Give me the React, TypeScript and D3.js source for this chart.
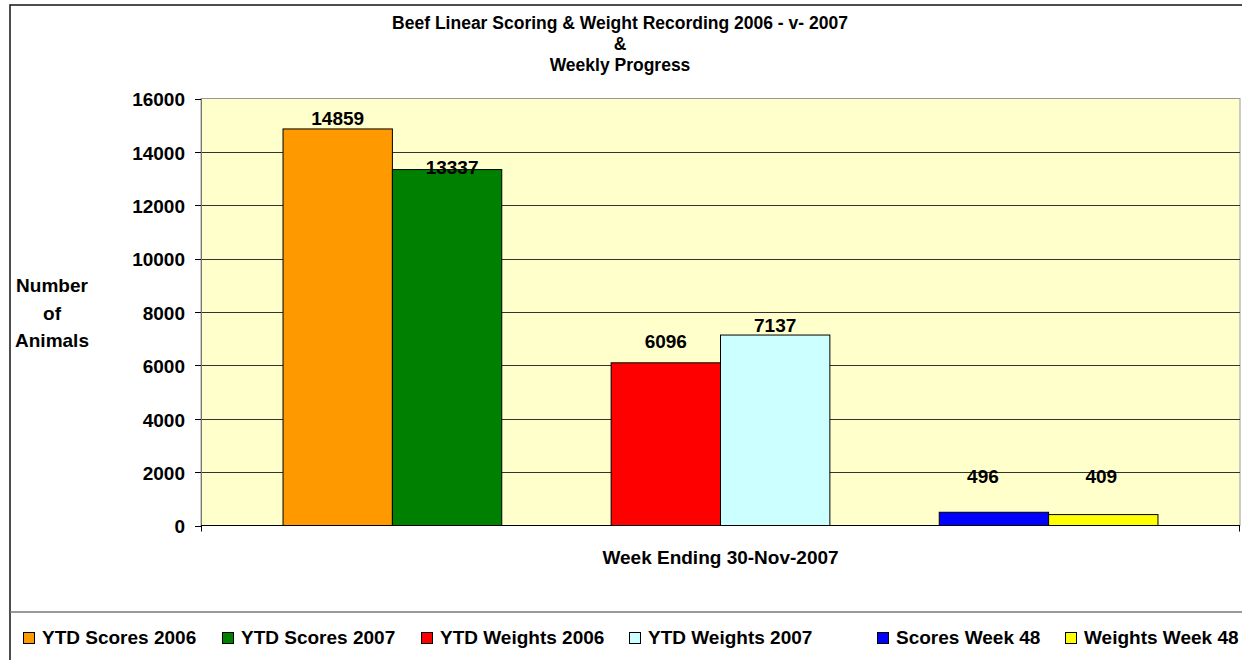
import React from "react";
import * as d3 from "d3";

// chart values
const titleLines = ["Beef Linear Scoring & Weight Recording 2006 - v- 2007", "&", "Weekly Progress"];
const yTitleLines = ["Number", "of", "Animals"];
const categoryLabel = "Week Ending 30-Nov-2007";
const slots = ["s06", "s07", "blank1", "w06", "w07", "blank2", "sw48", "ww48"];
const seriesNames = ["YTD Scores 2006", "YTD Scores 2007", "", "YTD Weights 2006", "YTD Weights 2007", "", "Scores Week 48", "Weights Week 48"];
const seriesValues = [14859, 13337, null, 6096, 7137, null, 496, 409];
const yTicks = [0, 2000, 4000, 6000, 8000, 10000, 12000, 14000, 16000];

// styles / layout
const colors = ["#FF9900", "#008000", null, "#FF0000", "#CCFFFF", null, "#0000FF", "#FFFF00"];
const labelNudge = [[0, -3.5], [5, 4], null, [0, -14.6], [0, -2.8], null, [-11, -29.3], [-2, -31.6]];
const legendX = [23, 222, 421, 629, 877, 1065];
const FONT = "'Liberation Sans', Arial, sans-serif";

const W = 1242, H = 660;
const plot = { left: 201, right: 1240, top: 98.5, bottom: 525.5 };

export default function App() {
  const x = d3.scaleBand().domain(slots).range([plot.left, plot.right]).paddingInner(0).paddingOuter(0.75);
  const y = d3.scaleLinear().domain([0, 16000]).range([plot.bottom, plot.top]);
  const cx = (plot.left + plot.right) / 2;

  const legendItems = seriesNames
    .map((name, i) => ({ name, color: colors[i] }))
    .filter(d => d.name !== "");

  return (
    <svg width={W} height={H} style={{ position: "absolute", left: 0, top: 0, background: "#fff" }}
      fontFamily={FONT} fontWeight="bold" fontSize={19}>
      {/* chart frame */}
      <rect x={10} y={5} width={W + 20} height={H + 20} fill="#fff" stroke="#222" strokeWidth={1.6} />

      {/* title */}
      <g textAnchor="middle" fontSize={17.5}>
        {titleLines.map((t, i) => (
          <text key={i} x={620} y={28.5 + i * 21}>{t}</text>
        ))}
      </g>

      {/* plot area */}
      <rect x={plot.left} y={plot.top} width={plot.right - plot.left} height={plot.bottom - plot.top}
        fill="#FFFFCC" stroke="#999" strokeWidth={1} />
      {yTicks.slice(1, -1).map(t => (
        <line key={t} x1={plot.left} x2={plot.right} y1={Math.round(y(t)) + 0.5} y2={Math.round(y(t)) + 0.5}
          stroke="#333" strokeWidth={1} />
      ))}

      {/* bars */}
      {slots.map((s, i) => {
        const v = seriesValues[i];
        if (v == null) return null;
        return (
          <rect key={s} x={x(s)} y={y(v)} width={x.bandwidth()} height={y(0) - y(v)}
            fill={colors[i] as string} stroke="#000" strokeWidth={1} />
        );
      })}

      {/* value labels */}
      <g textAnchor="middle">
        {slots.map((s, i) => {
          const v = seriesValues[i];
          const n = labelNudge[i];
          if (v == null || !n) return null;
          return (
            <text key={s} x={(x(s) as number) + x.bandwidth() / 2 + n[0]} y={y(v) + n[1]}>{v}</text>
          );
        })}
      </g>

      {/* y axis */}
      <line x1={plot.left + 0.5} x2={plot.left + 0.5} y1={plot.top} y2={plot.bottom} stroke="#777" />
      {yTicks.map(t => (
        <g key={t}>
          <line x1={plot.left - 6} x2={plot.left} y1={Math.round(y(t)) + 0.5} y2={Math.round(y(t)) + 0.5} stroke="#000" />
          <text x={185} y={y(t) + 7.8} textAnchor="end">{t}</text>
        </g>
      ))}

      {/* x axis */}
      <line x1={plot.left} x2={plot.right} y1={plot.bottom} y2={plot.bottom} stroke="#000" strokeWidth={1.2} />
      <line x1={plot.left + 0.5} x2={plot.left + 0.5} y1={plot.bottom} y2={plot.bottom + 6} stroke="#000" />
      <line x1={plot.right - 0.5} x2={plot.right - 0.5} y1={plot.bottom} y2={plot.bottom + 6} stroke="#000" />
      <text x={cx} y={564} textAnchor="middle">{categoryLabel}</text>

      {/* y title */}
      <g textAnchor="middle">
        {yTitleLines.map((t, i) => (
          <text key={i} x={52} y={292 + i * 27.7}>{t}</text>
        ))}
      </g>

      {/* legend */}
      <line x1={10} x2={W} y1={612} y2={612} stroke="#777" strokeWidth={1.4} />
      {legendItems.map((d, i) => (
        <g key={d.name} transform={`translate(${legendX[i]},632)`}>
          <rect x={0.5} y={0.5} width={11} height={11} fill={d.color as string} stroke="#000" strokeWidth={1} />
          <text x={19} y={12}>{d.name}</text>
        </g>
      ))}
    </svg>
  );
}
